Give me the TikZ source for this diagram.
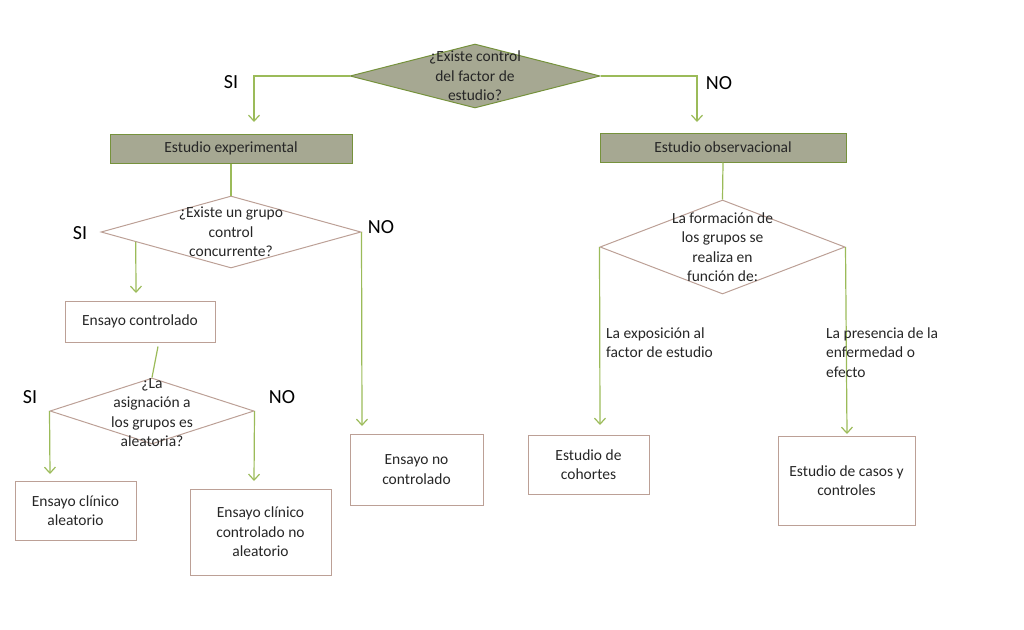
\documentclass[tikz,border=0pt]{standalone}
\usepackage{fontspec}
\setmainfont{Carlito}
\usetikzlibrary{calc,shapes.geometric,arrows.meta}
\definecolor{linegreen}{RGB}{155,187,89}
\definecolor{olivedark}{RGB}{118,146,60}
\definecolor{headfill}{RGB}{166,168,146}
\definecolor{boxbrown}{RGB}{188,160,150}
\definecolor{inkgray}{RGB}{38,38,38}

\begin{document}
\begin{tikzpicture}[%
    x=1pt, y=-1pt,
    >={Straight Barb[length=6pt,width=11pt]},
    every node/.style={font=\fontsize{15.5}{19.5}\selectfont, text=inkgray},
    link/.style={draw=linegreen, line width=1.2pt},
    decision/.style={diamond, draw=boxbrown, line width=1pt, inner sep=0pt},
    topdecision/.style={decision, draw=olivedark, fill=headfill},
    plainbox/.style={rectangle, draw=boxbrown, line width=1pt, align=center, inner sep=0pt},
    headbox/.style={plainbox, draw=olivedark, fill=headfill},
    asktext/.style={align=center, inner sep=0pt},
    answer/.style={font=\fontsize{20}{24}\selectfont, text=black, inner sep=0pt},
    branchtext/.style={align=left, inner sep=0pt, anchor=west}
  ]
    \useasboundingbox (0,0) rectangle (1024,629);

    % decisions
    \node[topdecision, minimum width=250pt, minimum height=64pt] (q1) at (475,76)    {};
    \node[decision,    minimum width=260pt, minimum height=72pt] (q2) at (231,232)   {};
    \node[decision,    minimum width=204pt, minimum height=66pt] (q3) at (152,411)   {};
    \node[decision,    minimum width=245pt, minimum height=94pt] (q4) at (722.5,247) {};

    \node[asktext] (q1text) at (q1)           {¿Existe control\\del factor de\\estudio?};
    \node[asktext] (q2text) at (q2)           {¿Existe un grupo\\control\\concurrente?};
    \node[asktext] (q3text) at (152,412.5)    {¿La\\asignación a\\los grupos es\\aleatoria?};
    \node[asktext] (q4text) at (q4)           {La formación de\\los grupos se\\realiza en\\función de:};

    % boxes
    \node[headbox,  minimum width=242pt, minimum height=29pt] (expbox)    at (231,148.5)   {Estudio experimental};
    \node[headbox,  minimum width=246pt, minimum height=29pt] (obsbox)    at (723,147.5)   {Estudio observacional};
    \node[plainbox, minimum width=150pt, minimum height=41pt] (ctrlbox)   at (140,321.5)   {Ensayo controlado};
    \node[plainbox, minimum width=133pt, minimum height=71pt] (noctrlbox) at (416.5,469.5) {Ensayo no\\controlado};
    \node[plainbox, minimum width=121pt, minimum height=59pt] (alebox)    at (75.5,510.5)  {Ensayo clínico\\aleatorio};
    \node[plainbox, minimum width=141pt, minimum height=86pt] (noalebox)  at (260.5,532)   {Ensayo clínico\\controlado no\\aleatorio};
    \node[plainbox, minimum width=121pt, minimum height=59pt] (cohbox)    at (588.5,464.5) {Estudio de\\cohortes};
    \node[plainbox, minimum width=137pt, minimum height=89pt] (casbox)    at (846.5,480.5) {Estudio de casos y\\controles};

    % arrow ends
    \coordinate (exptip)    at (254,122);
    \coordinate (obstip)    at (697,122);
    \coordinate (ctrltip)   at (136,293);
    \coordinate (noctrltip) at (362,426);
    \coordinate (aletip)    at (50,474);
    \coordinate (noaletip)  at (254,481);
    \coordinate (cohtip)    at (600,425);
    \coordinate (castip)    at (847,434);

    \draw[link,->] (q1.west) -| (exptip);
    \draw[link,->] (q1.east) -| (obstip);

    \path ($(q2.west)!0.27!(q2.south)$) edge[link,->] (ctrltip)
          (expbox.south)                edge[link]    (q2.north)
          (obsbox.south)                edge[link]    (q4.north)
          ($(ctrlbox.south)+(18,4)$)    edge[link]    (q3.north)
          (q2.east)                     edge[link,->] (noctrltip)
          (q3.west)                     edge[link,->] (aletip)
          (q3.east)                     edge[link,->] (noaletip)
          (q4.west)                     edge[link,->] (cohtip)
          (q4.east)                     edge[link,->] (castip);

    % answers
    \node[answer] (si1) at (231,82)  {SI};
    \node[answer] (no1) at (719,83)  {NO};
    \node[answer] (si2) at (80,233)  {SI};
    \node[answer] (no2) at (381,227) {NO};
    \node[answer] (si3) at (30,397)  {SI};
    \node[answer] (no3) at (282,397) {NO};

    \node[branchtext] (expotext) at (606,342.5) {La exposición al\\factor de estudio};
    \node[branchtext] (prestext) at (826,352.5) {La presencia de la\\enfermedad o\\efecto};
\end{tikzpicture}
\end{document}
